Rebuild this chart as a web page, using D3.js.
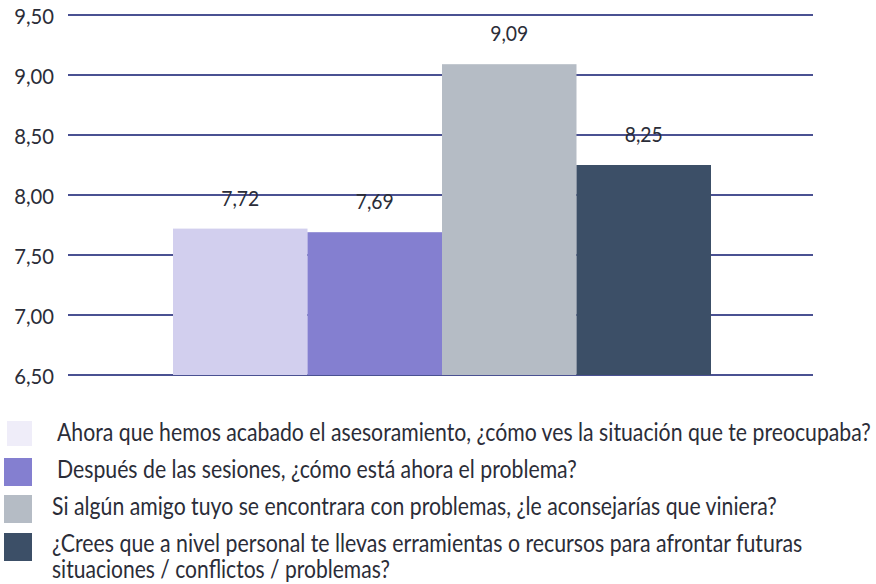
<!DOCTYPE html>
<html>
<head>
<meta charset="utf-8">
<script src="https://cdn.jsdelivr.net/npm/d3@7"></script>
<style>
  html, body { margin: 0; padding: 0; background: #fff; }
  svg { display: block; }
  text { font-family: Lato, "Open Sans", sans-serif; }
</style>
</head>
<body>
<svg id="chart" width="876" height="584"></svg>
<script>
const categories = ["q1", "q2", "q3", "q4"];
const values = [7.72, 7.69, 9.09, 8.25];
const valueLabels = ["7,72", "7,69", "9,09", "8,25"];
const barColors = ["#d2cfee", "#847fd0", "#b5bcc5", "#3c4f67"];
const legendColors = ["#efedf9", "#847fd0", "#b5bcc5", "#3c4f67"];
const tickValues = [6.5, 7.0, 7.5, 8.0, 8.5, 9.0, 9.5];
const tickLabels = ["6,50", "7,00", "7,50", "8,00", "8,50", "9,00", "9,50"];
const legendLines = [
  ["Ahora que hemos acabado el asesoramiento, ¿cómo ves la situación que te preocupaba?"],
  ["Después de las sesiones, ¿cómo está ahora el problema?"],
  ["Si algún amigo tuyo se encontrara con problemas, ¿le aconsejarías que viniera?"],
  ["¿Crees que a nivel personal te llevas erramientas o recursos para afrontar futuras",
   "situaciones / conflictos / problemas?"]
];

const svg = d3.select("#chart");
const gridLeft = 68, gridRight = 813;
const y = d3.scaleLinear().domain([6.5, 9.5]).range([375, 15]);
const x = d3.scaleBand().domain(categories).range([173, 711]).padding(0);

const textColor = "#2b2d38";

// place a text at (px, py) and squeeze it horizontally by factor f
function placeSqueezed(textSel, px, py, f) {
  textSel.attr("x", 0).attr("y", 0)
    .attr("transform", `translate(${px},${py}) scale(${f},1)`);
}

// gridlines
svg.append("g").selectAll("line")
  .data(tickValues).join("line")
  .attr("x1", gridLeft).attr("x2", gridRight)
  .attr("y1", d => y(d)).attr("y2", d => y(d))
  .attr("stroke", "#4a5192").attr("stroke-width", 2);

// tick labels
svg.append("g").selectAll("text")
  .data(tickValues).join("text")
  .attr("text-anchor", "end")
  .attr("font-size", 22)
  .attr("fill", textColor)
  .text((d, i) => tickLabels[i])
  .each(function(d) { placeSqueezed(d3.select(this), 54, y(d) + 9, 0.92); });

// bars
svg.append("g").selectAll("rect")
  .data(values).join("rect")
  .attr("x", (d, i) => x(categories[i]))
  .attr("width", x.bandwidth())
  .attr("y", d => y(d))
  .attr("height", d => y(6.5) - y(d))
  .attr("fill", (d, i) => barColors[i]);

// value labels
svg.append("g").selectAll("text")
  .data(values).join("text")
  .attr("text-anchor", "middle")
  .attr("font-size", 22)
  .attr("fill", textColor)
  .text((d, i) => valueLabels[i])
  .each(function(d, i) {
    placeSqueezed(d3.select(this), x(categories[i]) + x.bandwidth() / 2, y(d) - 23, 0.88);
  });

// legend
const legendRowY = [421, 458, 495, 533];
const legendBaseline = [[441], [478], [515], [552, 578]];
const legendTextX = [57, 57, 52, 52];
const legendTextWidths = [[814], [520], [725], [751, 338]];
const lg = svg.append("g");
legendLines.forEach((lines, i) => {
  lg.append("rect")
    .attr("x", i === 0 ? 7 : 4).attr("y", legendRowY[i])
    .attr("width", i === 0 ? 25 : 28).attr("height", i === 0 ? 25 : 28)
    .attr("fill", legendColors[i]);
  lines.forEach((t, j) => {
    const tx = lg.append("text")
      .attr("font-size", 25)
      .attr("fill", textColor)
      .text(t);
    const natural = tx.node().getComputedTextLength();
    placeSqueezed(tx, legendTextX[i], legendBaseline[i][j], legendTextWidths[i][j] / natural);
  });
});
</script>
</body>
</html>
